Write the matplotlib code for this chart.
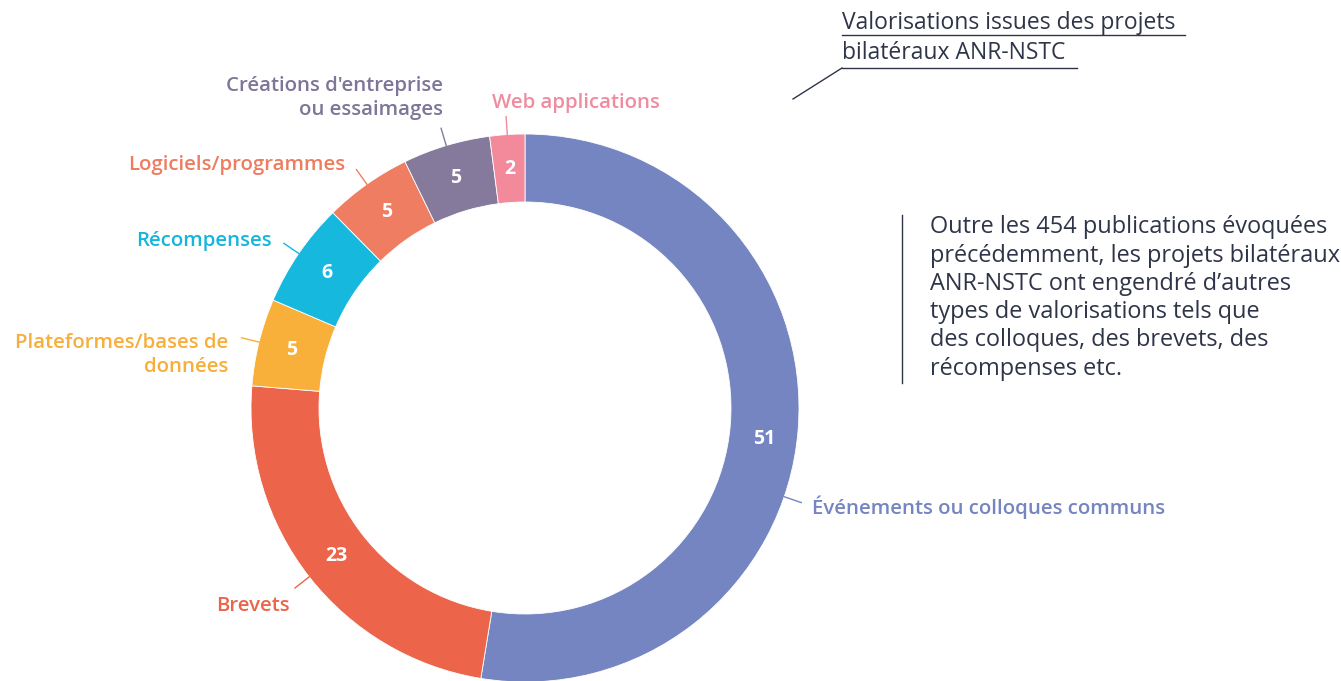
import numpy as np
import matplotlib.pyplot as plt

plt.rcParams['font.family'] = ['Open Sans', 'DejaVu Sans']

# data, clockwise from the top
categories = ["Événements ou colloques communs", "Brevets", "Plateformes/bases de\ndonnées",
              "Récompenses", "Logiciels/programmes", "Créations d'entreprise\nou essaimages",
              "Web applications"]
values = [51, 23, 5, 6, 5, 5, 2]
colors = ["#7585C1", "#EC644A", "#F8B03A", "#17B8DE", "#EF7D62", "#85799C", "#F28A9C"]
text_colors = ["#7585C1", "#EC644A", "#F8AE3A", "#17B5DD", "#EE7D60", "#7E7598", "#F08CA0"]

title = "Valorisations issues des projets\nbilatéraux ANR-NSTC"
body = ("Outre les 454 publications évoquées\nprécédemment, les projets bilatéraux\n"
        "ANR-NSTC ont engendré d’autres\ntypes de valorisations tels que\n"
        "des colloques, des brevets, des\nrécompenses etc.")

W, H = 1341, 681
fig = plt.figure(figsize=(W / 100, H / 100), dpi=100)
ax = fig.add_axes([0, 0, 1, 1])

def Y(y):
    # pixel row (from top) -> data y
    return H - y

cx, cy = 525, Y(408)
R, ring = 274, 68

wedges, _ = ax.pie(values, colors=colors, startangle=90, counterclock=False,
                   radius=R, center=(cx, cy),
                   wedgeprops=dict(width=ring, edgecolor='white', linewidth=0.6))

# label layout: (x, y, ha) in pixels from top-left
label_pos = [(812, 507, 'left'), (290, 606, 'right'), (228, 355, 'right'),
             (272, 241, 'right'), (345, 165, 'right'), (443, 98, 'right'),
             (492, 103, 'left')]
leader_angle = {0: -18.9}

for i, w in enumerate(wedges):
    mid = np.deg2rad((w.theta1 + w.theta2) / 2)
    r_num = R - ring / 2
    nx, ny = cx + r_num * np.cos(mid), cy + r_num * np.sin(mid)
    if i == 0:
        ny -= 12
    ax.text(nx, ny, str(values[i]), color='white', fontsize=14,
            fontweight='bold', ha='center', va='center')
    a = np.deg2rad(leader_angle.get(i, np.rad2deg(mid)))
    ax.plot([cx + R * np.cos(a), cx + (R + 18) * np.cos(a)],
            [cy + R * np.sin(a), cy + (R + 18) * np.sin(a)],
            color=colors[i], lw=1)
    lx, ly, ha = label_pos[i]
    ax.text(lx, Y(ly), categories[i], color=text_colors[i], fontsize=14.7,
            fontweight='semibold', ha=ha, va='center', linespacing=1.3)

# title with underlines and pointer line
ax.text(842, Y(38), title, color='#2F3548', fontsize=16.5, ha='left', va='center',
        linespacing=1.38)
ax.plot([842, 1185], [Y(35), Y(35)], color='#2F3548', lw=1)
ax.plot([842, 1077], [Y(68), Y(68)], color='#2F3548', lw=1)
ax.plot([842, 793], [Y(68), Y(99)], color='#2F3548', lw=1)

# side note
ax.plot([902, 902], [Y(215), Y(383)], color='#2F3548', lw=1)
ax.text(930, Y(298), body, color='#2F3548', fontsize=16.9, ha='left', va='center',
        linespacing=1.24)

ax.set_xlim(0, W)
ax.set_ylim(0, H)
ax.set_aspect('equal')
ax.axis('off')

fig.savefig('out.png', dpi=100, facecolor='white')
